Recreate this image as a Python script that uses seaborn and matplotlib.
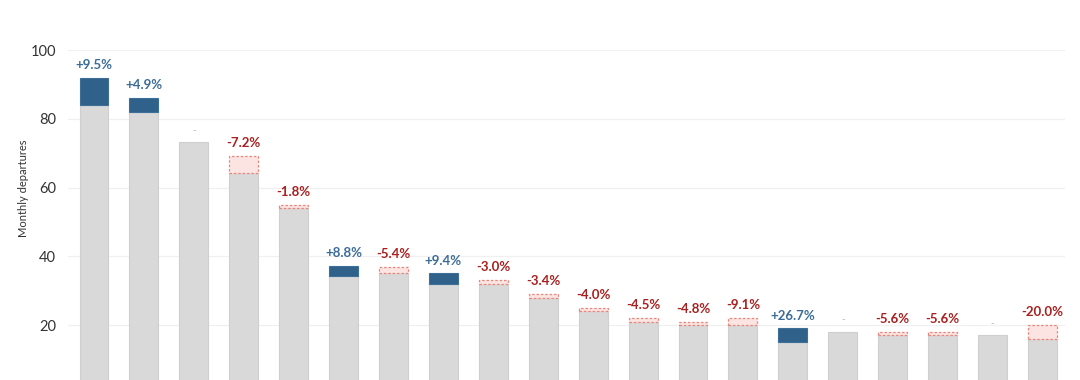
import numpy as np
import pandas as pd
import seaborn as sns
import matplotlib.pyplot as plt

# values (previous month vs current month)
routes = ["R01", "R02", "R03", "R04", "R05", "R06", "R07", "R08", "R09", "R10",
          "R11", "R12", "R13", "R14", "R15", "R16", "R17", "R18", "R19", "R20"]
prev_vals = [84.0, 82.0, 73.3, 69.2, 55.0, 34.2, 37.0, 32.0, 33.0, 29.0,
             25.0, 22.0, 21.0, 22.0, 15.0, 18.1, 18.0, 18.0, 17.1, 20.0]
curr_vals = [92.0, 86.0, 73.3, 64.2, 54.0, 37.2, 35.0, 35.0, 32.0, 28.0,
             24.0, 21.0, 20.0, 20.0, 19.0, 18.1, 17.0, 17.0, 17.1, 16.0]
change_labels = ["+9.5%", "+4.9%", "-", "-7.2%", "-1.8%", "+8.8%", "-5.4%", "+9.4%", "-3.0%", "-3.4%",
                 "-4.0%", "-4.5%", "-4.8%", "-9.1%", "+26.7%", "-", "-5.6%", "-5.6%", "-", "-20.0%"]

df = pd.DataFrame({"route": routes, "prev": prev_vals, "curr": curr_vals, "label": change_labels})
df["base"] = df[["prev", "curr"]].min(axis=1)
df["top"] = df[["prev", "curr"]].max(axis=1)

sns.set_style("white")
plt.rcParams["font.family"] = ["Lato", "DejaVu Sans"]

fig = plt.figure(figsize=(10.8, 3.8), dpi=100)
ax = fig.add_axes([0.063, 0.0, 0.923, 0.868])

BLUE = "#2f618b"
RED_TXT = "#a8201f"
BLUE_TXT = "#3b6c98"
W = 0.58

# grey base bars
sns.barplot(data=df, x="route", y="base", color="#d9d9d9", width=W,
            edgecolor="#cfcfcf", linewidth=0.8, saturation=1, ax=ax, zorder=2)

x = np.arange(len(df))
for i, r in df.iterrows():
    h = r["top"] - r["base"]
    if r["curr"] > r["prev"]:
        ax.bar(x[i], h, bottom=r["base"], width=W, color=BLUE, edgecolor="#3e6f98",
               linewidth=0.8, zorder=3)
        col = BLUE_TXT
    elif r["curr"] < r["prev"]:
        ax.bar(x[i], h, bottom=r["base"], width=W, color="#fbe4e2", edgecolor="#e8867c",
               linewidth=0.9, linestyle=(0, (2, 1.5)), zorder=3)
        col = RED_TXT
    else:
        col = "#b5b5b5"
    if r["label"] == "-":
        ax.annotate("-", (x[i], r["top"]), xytext=(0, 5), textcoords="offset points",
                    ha="center", va="bottom", fontsize=7, color=col, annotation_clip=False)
    else:
        ax.annotate(r["label"], (x[i], r["top"]), xytext=(0, 5), textcoords="offset points",
                    ha="center", va="bottom", fontsize=9.5, fontweight="bold", color=col,
                    annotation_clip=False)

ax.set_ylim(4, 100)
ax.set_xlim(-0.52, 19.45)
ax.set_yticks([20, 40, 60, 80, 100])
ax.yaxis.grid(True, color="#f0f0f0", linewidth=0.9, zorder=0)
ax.set_axisbelow(True)
ax.tick_params(axis="y", labelsize=10.5, labelcolor="#333333", length=0, pad=8.5)
ax.set_xticks([])
ax.set_xlabel("")
ax.set_ylabel("Monthly departures", fontsize=8, color="#333333")
ax.yaxis.set_label_coords(-0.039, 0.58)
for s in ax.spines.values():
    s.set_visible(False)

fig.savefig("out.png", dpi=100)
